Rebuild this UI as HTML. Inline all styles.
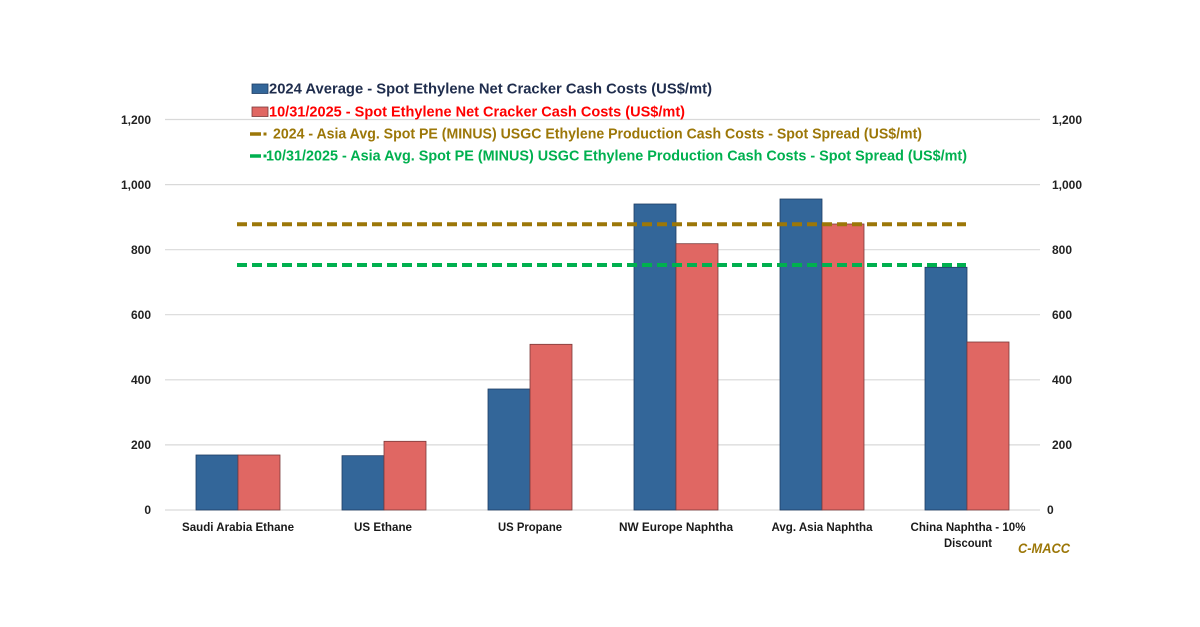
<!DOCTYPE html>
<html>
<head>
<meta charset="utf-8">
<style>
html,body{margin:0;padding:0;background:#fff;}
svg{display:block;}
text{font-family:"Liberation Sans",Arial,sans-serif;font-weight:bold;}
</style>
</head>
<body>
<svg width="1200" height="627" viewBox="0 0 1200 627" xmlns="http://www.w3.org/2000/svg">
<rect width="1200" height="627" fill="#fff"/>
<!-- gridlines -->
<g stroke="#d9d9d9" stroke-width="1.2">
<line x1="165" y1="119.5" x2="1040" y2="119.5"/>
<line x1="165" y1="184.6" x2="1040" y2="184.6"/>
<line x1="165" y1="249.7" x2="1040" y2="249.7"/>
<line x1="165" y1="314.7" x2="1040" y2="314.7"/>
<line x1="165" y1="379.8" x2="1040" y2="379.8"/>
<line x1="165" y1="444.9" x2="1040" y2="444.9"/>
<line x1="165" y1="510" x2="1040" y2="510"/>
</g>
<!-- left ticks -->
<g font-size="12" fill="#222" text-anchor="end">
<text x="151" y="124">1,200</text>
<text x="151" y="189">1,000</text>
<text x="151" y="254">800</text>
<text x="151" y="319">600</text>
<text x="151" y="384">400</text>
<text x="151" y="449">200</text>
<text x="151" y="514">0</text>
</g>
<!-- right ticks -->
<g font-size="12" fill="#222">
<text x="1052" y="124">1,200</text>
<text x="1052" y="189">1,000</text>
<text x="1052" y="254">800</text>
<text x="1052" y="319">600</text>
<text x="1052" y="384">400</text>
<text x="1052" y="449">200</text>
<text x="1047" y="514">0</text>
</g>
<!-- bars -->
<g stroke="#1f3d63" stroke-width="0.8" fill="#336699">
<rect x="196" y="455" width="42" height="55"/>
<rect x="342" y="455.7" width="42" height="54.3"/>
<rect x="488" y="389" width="42" height="121"/>
<rect x="634" y="204" width="42" height="306"/>
<rect x="780" y="199" width="42" height="311"/>
<rect x="925" y="267.3" width="42" height="242.7"/>
</g>
<g stroke="#7a3a3a" stroke-width="0.8" fill="#e06763">
<rect x="238" y="455" width="42" height="55"/>
<rect x="384" y="441.3" width="42" height="68.7"/>
<rect x="530" y="344.3" width="42" height="165.7"/>
<rect x="676" y="243.7" width="42" height="266.3"/>
<rect x="822" y="224" width="42" height="286"/>
<rect x="967" y="342" width="42" height="168"/>
</g>
<!-- dashed lines -->
<line x1="237" y1="224.3" x2="966" y2="224.3" stroke="#9c7708" stroke-width="4" stroke-dasharray="10 5"/>
<line x1="237" y1="265" x2="966" y2="265" stroke="#00b04f" stroke-width="4" stroke-dasharray="10 5"/>
<!-- x labels -->
<g font-size="12" fill="#1a1a1a" text-anchor="middle">
<text x="238" y="531" textLength="112" lengthAdjust="spacingAndGlyphs">Saudi Arabia Ethane</text>
<text x="383" y="531" textLength="58" lengthAdjust="spacingAndGlyphs">US Ethane</text>
<text x="530" y="531" textLength="64" lengthAdjust="spacingAndGlyphs">US Propane</text>
<text x="676" y="531" textLength="114" lengthAdjust="spacingAndGlyphs">NW Europe Naphtha</text>
<text x="822" y="531" textLength="101" lengthAdjust="spacingAndGlyphs">Avg. Asia Naphtha</text>
<text x="968" y="531" textLength="115" lengthAdjust="spacingAndGlyphs">China Naphtha - 10%</text>
<text x="968" y="547" textLength="48" lengthAdjust="spacingAndGlyphs">Discount</text>
</g>
<text x="1018" y="553" font-size="14" font-style="italic" fill="#9c7708" textLength="52" lengthAdjust="spacingAndGlyphs">C-MACC</text>
<!-- legend -->
<rect x="252" y="84" width="16" height="9.5" fill="#336699" stroke="#1f3d63" stroke-width="0.8"/>
<text x="269" y="93.5" font-size="15" fill="#1f2d4d" textLength="443" lengthAdjust="spacingAndGlyphs">2024 Average - Spot Ethylene Net Cracker Cash Costs (US$/mt)</text>
<rect x="252" y="107" width="16" height="9.5" fill="#e06763" stroke="#7a3a3a" stroke-width="0.8"/>
<text x="269" y="116.3" font-size="15" fill="#ff0000" textLength="416" lengthAdjust="spacingAndGlyphs">10/31/2025 - Spot Ethylene Net Cracker Cash Costs (US$/mt)</text>
<line x1="250" y1="134" x2="261" y2="134" stroke="#9c7708" stroke-width="3.5"/>
<rect x="263.5" y="132.5" width="3" height="3" fill="#9c7708"/>
<text x="273" y="138.7" font-size="15" fill="#9c7708" textLength="649" lengthAdjust="spacingAndGlyphs">2024 - Asia Avg. Spot PE (MINUS) USGC Ethylene Production Cash Costs - Spot Spread (US$/mt)</text>
<line x1="250" y1="156" x2="261" y2="156" stroke="#00b04f" stroke-width="3.5"/>
<rect x="263.5" y="154.5" width="3" height="3" fill="#00b04f"/>
<text x="266" y="160.7" font-size="15" fill="#00b04f" textLength="701" lengthAdjust="spacingAndGlyphs">10/31/2025 - Asia Avg. Spot PE (MINUS) USGC Ethylene Production Cash Costs - Spot Spread (US$/mt)</text>
</svg>
</body>
</html>
